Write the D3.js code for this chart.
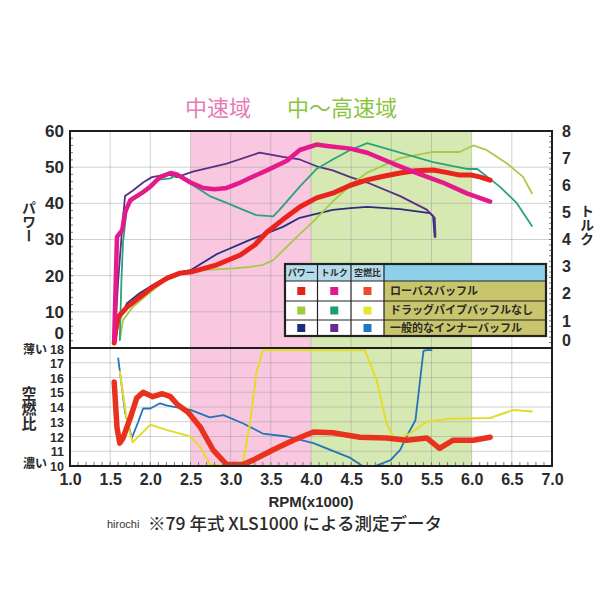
<!DOCTYPE html>
<html>
<head>
<meta charset="utf-8">
<script src="https://cdn.jsdelivr.net/npm/d3@7"></script>
<style>
  body { margin: 0; background: #fff; }
  svg { display: block; }
</style>
</head>
<body>
<svg id="target"></svg>
<script>
// [rpm x1000, value]
const powerLowBass = [[1.55,1.4],[1.57,5],[1.6,8.6],[1.71,11.3],[1.87,14.1],[2.03,16.9],[2.21,19.3],[2.37,20.7],[2.5,21],[2.83,23],[3.12,25.7],[3.3,28.5],[3.45,32],[3.65,35.5],[3.86,39],[4.07,41.5],[4.27,42.8],[4.49,45],[4.7,46.5],[4.9,47.5],[5.11,48.4],[5.3,49],[5.52,49.2],[5.7,48.5],[5.85,47.8],[6.0,47.8],[6.1,47.3],[6.23,46.4]];
const powerDrag = [[1.62,2.2],[1.66,7.7],[1.78,11.3],[1.95,14.5],[2.2,19],[2.4,20.5],[2.62,21.5],[3.03,22],[3.24,22.4],[3.4,23],[3.53,24.3],[3.7,28],[3.86,31.5],[4.03,35],[4.27,40.5],[4.49,45],[4.7,48.5],[5.11,52.5],[5.52,54.2],[5.85,54.2],[6.02,56],[6.19,54.7],[6.44,51],[6.64,47.3],[6.75,42.8]];
const powerInner = [[1.56,1.5],[1.6,6.9],[1.71,12.4],[1.87,15.2],[2.03,17.4],[2.37,21],[2.5,21.5],[2.83,26],[3.24,29.9],[3.65,33.5],[3.86,36],[4.27,38.2],[4.49,38.7],[4.7,39],[5.11,38.4],[5.48,37.3],[5.52,36.5],[5.54,30.7]];

const torqueLowBass = [[1.55,0.3],[1.57,2.5],[1.585,4.1],[1.65,4.35],[1.685,5.0],[1.75,5.45],[1.91,5.75],[2.0,5.95],[2.12,6.3],[2.25,6.45],[2.33,6.4],[2.5,6.1],[2.66,5.9],[2.8,5.85],[2.95,5.9],[3.12,6.1],[3.3,6.35],[3.45,6.55],[3.7,6.9],[3.86,7.3],[4.07,7.5],[4.2,7.45],[4.49,7.35],[4.7,7.2],[5.02,6.8],[5.32,6.45],[5.64,6.1],[5.94,5.7],[6.23,5.4]];
const torqueDrag = [[1.62,0.3],[1.64,2.5],[1.66,3.9],[1.71,5.2],[1.78,5.45],[1.96,5.8],[2.08,6.2],[2.25,6.25],[2.33,6.4],[2.53,6.0],[2.74,5.6],[2.95,5.35],[3.15,5.1],[3.32,4.9],[3.53,4.85],[3.61,5.1],[3.86,5.95],[4.07,6.6],[4.27,6.95],[4.49,7.3],[4.7,7.55],[5.11,7.2],[5.52,6.85],[5.94,6.6],[6.07,6.6],[6.35,5.95],[6.56,5.35],[6.75,4.5]];
const torqueInner = [[1.56,0.5],[1.6,2.5],[1.65,4.45],[1.685,5.6],[1.78,5.8],[1.91,6.1],[2.02,6.3],[2.21,6.4],[2.33,6.3],[2.53,6.5],[2.95,6.8],[3.36,7.2],[3.65,7.05],[3.86,6.95],[4.07,6.7],[4.27,6.55],[4.49,6.3],[4.7,6.1],[5.11,5.6],[5.44,5.1],[5.54,4.8],[5.55,4.1]];

const afrLowBass = [[1.55,15.7],[1.585,12.6],[1.62,11.55],[1.66,11.9],[1.75,13.25],[1.83,14.6],[1.91,15.0],[2.03,14.7],[2.15,14.9],[2.25,14.7],[2.34,14.15],[2.47,13.65],[2.62,12.65],[2.78,11.1],[2.95,10.1],[3.15,10.1],[3.28,10.4],[3.53,11.1],[3.78,11.75],[4.03,12.3],[4.27,12.25],[4.61,11.95],[4.94,11.9],[5.19,11.75],[5.44,11.9],[5.6,11.2],[5.77,11.75],[6.02,11.75],[6.23,11.95]];
const afrDrag = [[1.62,16.4],[1.71,13.0],[1.78,11.6],[2.0,12.8],[2.2,12.45],[2.5,12.0],[2.62,11.3],[2.74,10.1],[2.95,10.0],[3.15,10.1],[3.24,12.9],[3.32,16.3],[3.4,17.85],[4.67,17.85],[4.82,15.8],[4.94,12.9],[5.04,11.75],[5.23,12.2],[5.44,13.0],[5.73,13.2],[6.23,13.25],[6.52,13.8],[6.75,13.7]];
const afrInner = [[1.6,17.3],[1.685,13.65],[1.77,11.9],[1.85,13.0],[1.91,13.9],[2.0,13.9],[2.12,14.25],[2.21,14.1],[2.5,13.8],[2.74,13.3],[2.91,13.45],[3.15,12.9],[3.4,12.2],[3.7,12.0],[4.03,11.55],[4.49,10.55],[4.64,10.0],[4.8,10.0],[4.99,10.4],[5.11,11.1],[5.19,12.0],[5.3,13.1],[5.4,17.8],[5.44,17.85],[5.5,17.85]];

const rpmTicks = [1.0,1.5,2.0,2.5,3.0,3.5,4.0,4.5,5.0,5.5,6.0,6.5,7.0];
const powerTicks = [0,10,20,30,40,50,60];
const torqueTicks = [0,1,2,3,4,5,6,7,8];
const afrTicks = [10,11,12,13,14,15,16,17,18];
const bands = [{from: 2.5, to: 4.0, name: "中速域"}, {from: 4.0, to: 6.0, name: "中～高速域"}];
const legendRows = ["ローバスバッフル", "ドラッグパイプバッフルなし", "一般的なインナーバッフル"];
const legendCols = ["パワー", "トルク", "空燃比"];

const width = 600;
const height = 600;
const jp = '"Noto Sans CJK JP", sans-serif';
const num = '"Liberation Sans", Arial, sans-serif';
const ink = '#2a2a2a';
const colors = {
  power: ['#e8241d', '#a8c94a', '#27307e'],
  torque: ['#e3198c', '#2ba37a', '#5b2d86'],
  afr: ['#e8321e', '#e4dc2a', '#2474b8'],
  swPower: ['#e2231a', '#9ccc3c', '#1d2c80'],
  swTorque: ['#e01a8a', '#1aa070', '#6a2c91'],
  swAfr: ['#ea4b2b', '#e6e62e', '#1f77c4'],
  pink: '#f9c8e0',
  green: '#d6e9b3'
};

const svg = d3.select('#target')
  .attr('width', width)
  .attr('height', height)
  .attr('viewBox', [0, 0, width, height]);

const x = d3.scaleLinear().domain([1, 7]).range([70, 552]);
const yPower = d3.scaleLinear().domain([0, 60]).range([348, 131]);
const yTorque = d3.scaleLinear().domain([0, 8]).range([348, 131]);
const yAfr = d3.scaleLinear().domain([10, 18]).range([466, 348]);

const plotTop = yPower(60), plotMid = yPower(0), plotBottom = yAfr(10);
const plotLeft = x(1), plotRight = x(7);

// speed bands
svg.selectAll('.band')
  .data(bands)
  .enter().append('rect')
    .attr('x', d => x(d.from))
    .attr('y', plotTop)
    .attr('width', d => x(d.to) - x(d.from))
    .attr('height', plotBottom - plotTop)
    .attr('fill', (d, i) => i === 0 ? colors.pink : colors.green);

svg.selectAll('.bandTitle')
  .data(bands)
  .enter().append('text')
    .attr('x', (d, i) => i === 0 ? 185 : 287)
    .attr('y', 116)
    .attr('font-family', jp)
    .attr('font-size', 22)
    .attr('fill', (d, i) => i === 0 ? '#e77bb5' : '#8cc43f')
    .text(d => d.name);

// grid
const grid = svg.append('g').attr('stroke', '#9a9a9a').attr('stroke-opacity', 0.45).attr('stroke-width', 1);
grid.selectAll('.vg')
  .data(rpmTicks.slice(1, -1))
  .enter().append('line')
    .attr('x1', d => x(d)).attr('x2', d => x(d))
    .attr('y1', plotTop).attr('y2', plotBottom);
grid.selectAll('.hp')
  .data(powerTicks.slice(1, -1))
  .enter().append('line')
    .attr('x1', plotLeft).attr('x2', plotRight)
    .attr('y1', d => yPower(d)).attr('y2', d => yPower(d));
grid.selectAll('.ha')
  .data(afrTicks.slice(1, -1))
  .enter().append('line')
    .attr('x1', plotLeft).attr('x2', plotRight)
    .attr('y1', d => yAfr(d)).attr('y2', d => yAfr(d));

// clips
const defs = svg.append('defs');
defs.append('clipPath').attr('id', 'clip-up')
  .append('rect').attr('x', plotLeft).attr('y', plotTop - 2).attr('width', plotRight - plotLeft).attr('height', plotMid - plotTop + 2);
defs.append('clipPath').attr('id', 'clip-low')
  .append('rect').attr('x', plotLeft).attr('y', plotMid - 1).attr('width', plotRight - plotLeft).attr('height', plotBottom - plotMid + 1);

function drawLine(data, yScale, color, w, clip) {
  const line = d3.line().x(d => x(d[0])).y(d => yScale(d[1])).curve(d3.curveLinear);
  svg.append('path')
    .datum(data)
    .attr('clip-path', 'url(#' + clip + ')')
    .attr('fill', 'none')
    .attr('stroke', color)
    .attr('stroke-width', w)
    .attr('stroke-linejoin', 'round')
    .attr('stroke-linecap', 'round')
    .attr('d', line);
}

drawLine(powerInner, yPower, colors.power[2], 1.8, 'clip-up');
drawLine(torqueInner, yTorque, colors.torque[2], 1.8, 'clip-up');
drawLine(powerDrag, yPower, colors.power[1], 1.8, 'clip-up');
drawLine(torqueDrag, yTorque, colors.torque[1], 1.8, 'clip-up');
drawLine(powerLowBass, yPower, colors.power[0], 5, 'clip-up');
drawLine(torqueLowBass, yTorque, colors.torque[0], 4.5, 'clip-up');

drawLine(afrInner, yAfr, colors.afr[2], 1.8, 'clip-low');
drawLine(afrDrag, yAfr, colors.afr[1], 2, 'clip-low');
drawLine(afrLowBass, yAfr, colors.afr[0], 5.5, 'clip-low');

// minor ticks
const minor = svg.append('g').attr('stroke', '#777').attr('stroke-width', 1);
minor.selectAll('.mb')
  .data(d3.range(11, 70).map(d => d / 10))
  .enter().append('line')
    .attr('x1', d => x(d)).attr('x2', d => x(d))
    .attr('y1', plotBottom).attr('y2', plotBottom - 4);
minor.selectAll('.ml')
  .data(d3.range(2, 60, 2))
  .enter().append('line')
    .attr('x1', plotLeft).attr('x2', plotLeft + 3)
    .attr('y1', d => yPower(d)).attr('y2', d => yPower(d));
minor.selectAll('.mr')
  .data(d3.range(1, 40).map(d => d / 5))
  .enter().append('line')
    .attr('x1', plotRight).attr('x2', plotRight - 3)
    .attr('y1', d => yTorque(d)).attr('y2', d => yTorque(d));

// frame
const frame = svg.append('g').attr('stroke', '#1e1e1e').attr('fill', 'none');
frame.append('rect')
  .attr('x', plotLeft).attr('y', plotTop)
  .attr('width', plotRight - plotLeft).attr('height', plotBottom - plotTop)
  .attr('stroke-width', 2);
frame.append('line')
  .attr('x1', plotLeft).attr('x2', plotRight)
  .attr('y1', plotMid).attr('y2', plotMid)
  .attr('stroke-width', 2.2);

// axes
function styleAxis(g, size) {
  g.select('.domain').remove();
  g.selectAll('.tick line').remove();
  g.selectAll('text')
    .attr('font-family', num)
    .attr('font-weight', 'bold')
    .attr('font-size', size)
    .attr('fill', ink);
}

svg.append('g')
  .attr('transform', 'translate(0,' + plotBottom + ')')
  .call(d3.axisBottom(x).tickValues(rpmTicks).tickFormat(d3.format('.1f')).tickSize(0).tickPadding(8))
  .call(g => styleAxis(g, 16));

svg.append('g')
  .attr('transform', 'translate(' + plotLeft + ',0)')
  .call(d3.axisLeft(yPower).tickValues(powerTicks).tickSize(0).tickPadding(6))
  .call(g => styleAxis(g, 17))
  .call(g => g.selectAll('text').attr('dy', d => d === 0 ? '-0.55em' : '0.32em'));

svg.append('g')
  .attr('transform', 'translate(' + plotRight + ',0)')
  .call(d3.axisRight(yTorque).tickValues(torqueTicks).tickSize(0).tickPadding(10))
  .call(g => styleAxis(g, 16))
  .call(g => g.selectAll('text').attr('dy', d => d === 0 ? '-0.15em' : '0.32em'));

svg.append('g')
  .attr('transform', 'translate(' + plotLeft + ',0)')
  .call(d3.axisLeft(yAfr).tickValues(afrTicks).tickSize(0).tickPadding(6))
  .call(g => styleAxis(g, 12.5))
  .call(g => g.selectAll('text').attr('dy', d => d === 18 ? '0.45em' : '0.36em'));

// axis titles
function vText(tx, ty, label, size) {
  svg.append('text')
    .attr('x', tx).attr('y', ty)
    .attr('writing-mode', 'vertical-rl')
    .attr('text-anchor', 'middle')
    .attr('font-family', jp)
    .attr('font-weight', 'bold')
    .attr('font-size', size)
    .attr('fill', ink)
    .text(label);
}
vText(29, 222, 'パワー', 14);
vText(587, 225, 'トルク', 14);
vText(29, 408, '空燃比', 15);

svg.selectAll('.afrEnd')
  .data([{t: '薄い', v: 18, dy: 0.5}, {t: '濃い', v: 10, dy: 0.2}])
  .enter().append('text')
    .attr('x', 47)
    .attr('y', d => yAfr(d.v))
    .attr('dy', d => d.dy + 'em')
    .attr('text-anchor', 'end')
    .attr('font-family', jp)
    .attr('font-weight', 'bold')
    .attr('font-size', 12)
    .attr('fill', ink)
    .text(d => d.t);

svg.append('text')
  .attr('x', (plotLeft + plotRight) / 2)
  .attr('y', 507)
  .attr('text-anchor', 'middle')
  .attr('font-family', num)
  .attr('font-weight', 'bold')
  .attr('font-size', 15)
  .attr('fill', ink)
  .text('RPM(x1000)');

svg.append('text')
  .attr('x', 107).attr('y', 528)
  .attr('font-family', num)
  .attr('font-size', 11)
  .attr('fill', '#333')
  .text('hirochi');

svg.append('text')
  .attr('x', 148).attr('y', 530)
  .attr('font-family', jp)
  .attr('font-weight', 500)
  .attr('font-size', 17.5)
  .attr('fill', ink)
  .text('※79 年式 XLS1000 による測定データ');

// legend table
const colX = [285, 317.5, 351, 384, 546];
const rowY = [264, 281, 301, 320, 336];
const legend = svg.append('g');

legendCols.forEach((c, i) => {
  legend.append('rect')
    .attr('x', colX[i]).attr('y', rowY[0])
    .attr('width', colX[i + 1] - colX[i]).attr('height', rowY[1] - rowY[0])
    .attr('fill', '#b5dcec');
  legend.append('text')
    .attr('x', (colX[i] + colX[i + 1]) / 2).attr('y', (rowY[0] + rowY[1]) / 2)
    .attr('dy', '0.35em')
    .attr('text-anchor', 'middle')
    .attr('font-family', jp)
    .attr('font-weight', 'bold')
    .attr('font-size', 9)
    .attr('fill', ink)
    .text(c);
});
legend.append('rect')
  .attr('x', colX[3]).attr('y', rowY[0])
  .attr('width', colX[4] - colX[3]).attr('height', rowY[1] - rowY[0])
  .attr('fill', '#8ed0ea');

legendRows.forEach((r, j) => {
  const y0 = rowY[j + 1], y1 = rowY[j + 2];
  [colors.swPower[j], colors.swTorque[j], colors.swAfr[j]].forEach((c, i) => {
    legend.append('rect')
      .attr('x', colX[i]).attr('y', y0)
      .attr('width', colX[i + 1] - colX[i]).attr('height', y1 - y0)
      .attr('fill', '#fff');
    legend.append('rect')
      .attr('x', (colX[i] + colX[i + 1]) / 2 - 4).attr('y', (y0 + y1) / 2 - 4)
      .attr('width', 8).attr('height', 8)
      .attr('fill', c);
  });
  legend.append('rect')
    .attr('x', colX[3]).attr('y', y0)
    .attr('width', colX[4] - colX[3]).attr('height', y1 - y0)
    .attr('fill', '#c9c56c');
  legend.append('text')
    .attr('x', colX[3] + 6).attr('y', (y0 + y1) / 2)
    .attr('dy', '0.36em')
    .attr('font-family', jp)
    .attr('font-weight', 'bold')
    .attr('font-size', 11)
    .attr('fill', ink)
    .text(r);
});

const lg = legend.append('g').attr('stroke', '#222').attr('fill', 'none');
colX.slice(1, -1).forEach(cx => lg.append('line').attr('x1', cx).attr('x2', cx).attr('y1', rowY[0]).attr('y2', rowY[4]).attr('stroke-width', 1.2));
rowY.slice(1, -1).forEach(ry => lg.append('line').attr('x1', colX[0]).attr('x2', colX[4]).attr('y1', ry).attr('y2', ry).attr('stroke-width', 1.2));
lg.append('rect')
  .attr('x', colX[0]).attr('y', rowY[0])
  .attr('width', colX[4] - colX[0]).attr('height', rowY[4] - rowY[0])
  .attr('stroke-width', 2.2);
</script>
</body>
</html>
